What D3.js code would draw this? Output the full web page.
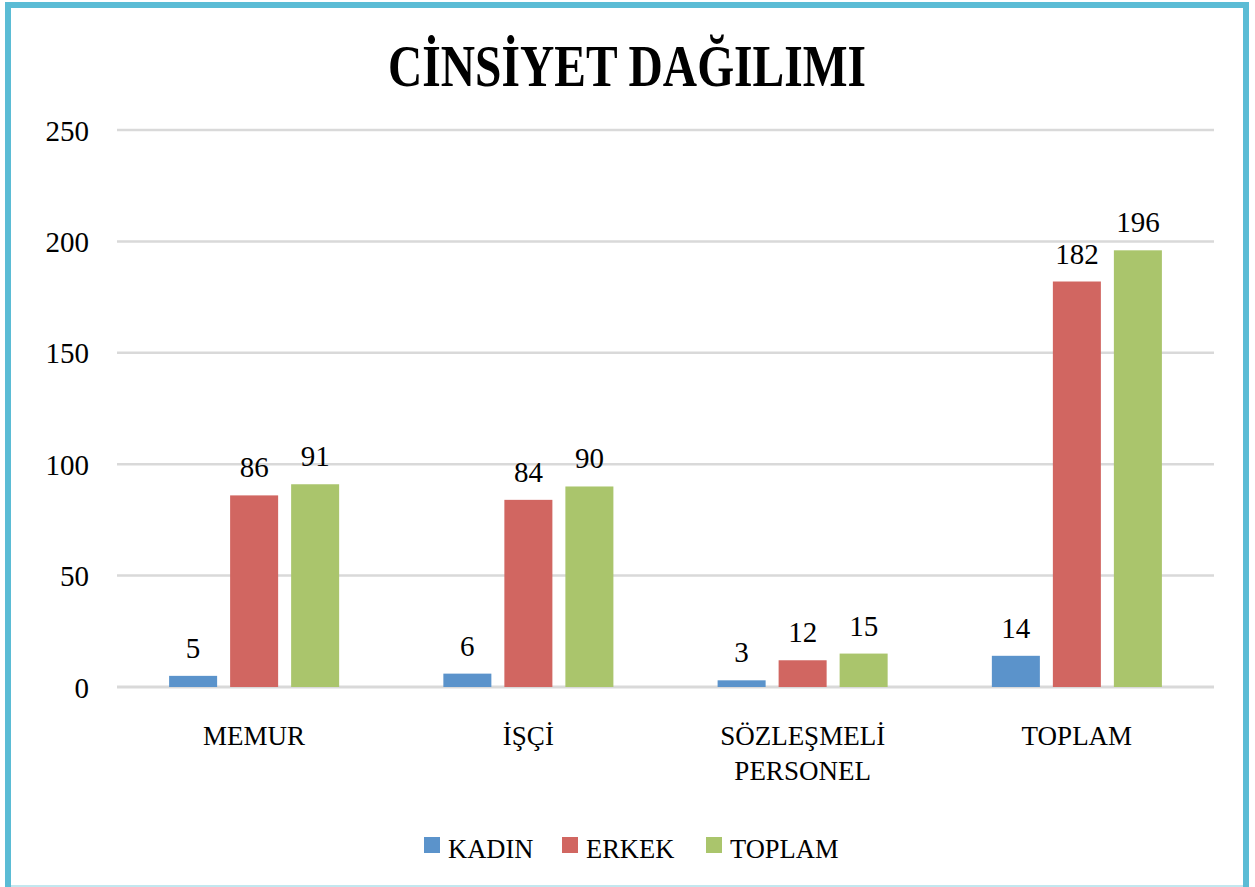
<!DOCTYPE html>
<html><head><meta charset="utf-8">
<script src="https://cdn.jsdelivr.net/npm/d3@7"></script>
<style>html,body{margin:0;padding:0;background:#fff;}svg{display:block;}</style>
</head><body>
<svg id="c" width="1255" height="887"></svg>
<script>
const categories = [["MEMUR"], ["İŞÇİ"], ["SÖZLEŞMELİ", "PERSONEL"], ["TOPLAM"]];
const seriesNames = ["KADIN", "ERKEK", "TOPLAM"];
const kadin = [5, 6, 3, 14];
const erkek = [86, 84, 12, 182];
const toplam = [91, 90, 15, 196];
const yTicks = [0, 50, 100, 150, 200, 250];
const colors = ["#5b93cb", "#d16661", "#aac56c"];
const title = "CİNSİYET DAĞILIMI";

const seriesVals = [kadin, erkek, toplam];
const font = "'Liberation Serif', 'DejaVu Serif', serif";
const svg = d3.select("#c");
svg.append("rect").attr("width",1255).attr("height",887).attr("fill","#fff");

// frame
svg.append("rect").attr("x",8).attr("y",5).attr("width",1238).attr("height",900)
  .attr("fill","none").attr("stroke","#5bbcd5").attr("stroke-width",6);
svg.append("line").attr("x1",11).attr("x2",1243).attr("y1",886).attr("y2",886)
  .attr("stroke","#c2e7ef").attr("stroke-width",2);

const x0 = d3.scaleBand().domain(d3.range(categories.length)).range([117,1214]).padding(0);
const x1 = d3.scaleBand().domain(seriesNames).range([0, x0.bandwidth()]).paddingInner(0.213).paddingOuter(0.854);
const y = d3.scaleLinear().domain([0,250]).range([687,130]);

// gridlines
svg.append("g").selectAll("line").data(yTicks).join("line")
  .attr("x1",117).attr("x2",1214).attr("y1",d=>y(d)).attr("y2",d=>y(d))
  .attr("stroke","#d9d9d9").attr("stroke-width",d=>d===0?3:2.5);

// y axis labels
const yAxis = d3.axisLeft(y).tickValues(yTicks).tickSize(0).tickPadding(0);
const ya = svg.append("g").attr("transform","translate(89,0)").call(yAxis);
ya.select(".domain").remove();
ya.selectAll("text").attr("font-family",font).attr("font-size",29).attr("fill","#000").attr("dy","0.35em");

// title
svg.append("text").attr("x",627).attr("y",86).attr("text-anchor","middle")
  .attr("font-family",font).attr("font-weight","bold").attr("font-size",60).attr("fill","#000")
  .attr("textLength",478).attr("lengthAdjust","spacingAndGlyphs").text(title);

// bars
const groups = svg.append("g").selectAll("g").data(categories).join("g")
  .attr("transform",(d,i)=>`translate(${x0(i)},0)`);
groups.each(function(c,i){
  const g = d3.select(this);
  seriesNames.forEach((s,j)=>{
    const v = seriesVals[j][i];
    g.append("rect").attr("x",x1(s)).attr("width",x1.bandwidth())
      .attr("y",y(v)).attr("height",y(0)-y(v)).attr("fill",colors[j]);
    g.append("text").attr("x",x1(s)+x1.bandwidth()/2).attr("y",y(v)-18)
      .attr("text-anchor","middle").attr("font-family",font).attr("font-size",29).attr("fill","#000").text(v);
  });
  const t = g.append("text").attr("text-anchor","middle").attr("font-family",font).attr("font-size",27).attr("fill","#000");
  c.forEach((line,k)=>{
    t.append("tspan").attr("x",x0.bandwidth()/2).attr("y",745+k*35).text(line);
  });
});

// legend
const legX = [424, 562, 706];
const leg = svg.append("g").selectAll("g").data(seriesNames).join("g")
  .attr("transform",(d,i)=>`translate(${legX[i]},0)`);
leg.append("rect").attr("x",0).attr("y",837).attr("width",16).attr("height",16).attr("fill",(d,i)=>colors[i]);
leg.append("text").attr("x",24).attr("y",858).attr("font-family",font).attr("font-size",26.5).attr("fill","#000").text(d=>d);
</script>
</body></html>
